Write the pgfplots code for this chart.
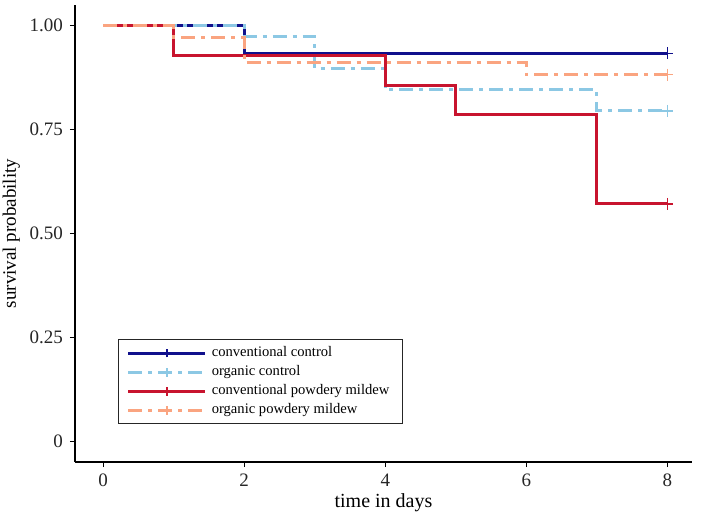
\documentclass[border=0pt]{standalone}
\usepackage{pgfplots}
\pgfplotsset{compat=1.18}
\usepackage{fontspec}
\setmainfont{Liberation Serif}
\definecolor{cnavy}{RGB}{16,16,140}
\definecolor{clblue}{RGB}{140,200,228}
\definecolor{cred}{RGB}{200,20,46}
\definecolor{corange}{RGB}{250,164,128}
\tikzset{dd/.style={dash pattern=on 7pt off 3pt on 2pt off 3pt}}
\begin{document}
\begin{tikzpicture}
\begin{axis}[
  name=ax,
  scale only axis,
  width=308.5pt, height=228.5pt,
  xmin=-0.4, xmax=8.35,
  ymin=-0.05, ymax=1.05,
  axis x line*=bottom, axis y line*=left,
  axis line style={line width=0.7pt, -},
  tick align=outside,
  major tick length=2.5pt,
  tick style={black, line width=0.7pt},
  xtick={0,2,4,6,8},
  ytick={0,0.25,0.5,0.75,1},
  yticklabels={0,0.25,0.50,0.75,1.00},
  /pgf/number format/assume math mode=true,
  ticklabel style={font=\fontsize{9.5}{11}\selectfont, text=black!85},
  xlabel={time in days},
  ylabel={survival probability},
  xlabel style={font=\fontsize{10}{12}\selectfont, inner sep=0pt, at={(axis description cs:0.5,-0.0896)}, anchor=center},
  ylabel style={font=\fontsize{9.5}{11}\selectfont, inner sep=0pt, at={(axis description cs:-0.103,0.5)}, anchor=center},
  clip=false,
  legend cell align=left,
  legend style={at={(axis description cs:0.0697,0.269)}, anchor=north west,
    draw=black!85, line width=0.6pt, font=\fontsize{7.3}{8.5}\selectfont,
    inner xsep=4pt, inner ysep=1pt, row sep=-1.8pt,
    nodes={inner sep=2.4pt}},
  legend image code/.code={
    \draw[#1] (0cm,0cm) -- (1.36cm,0cm);
    \draw[#1, solid, line width=0.7pt] (0.68cm,-2.2pt) -- (0.68cm,2.2pt);
  },
]
\addplot[const plot, cnavy, line width=1.5pt] coordinates {(0,1) (2,0.9333) (8,0.9333)};
\addlegendentry{conventional control}
\addplot[const plot, clblue, line width=1.5pt, dd] coordinates {(0,1) (2,0.9744) (3,0.8974) (4,0.8462) (7,0.7949) (8,0.7949)};
\addlegendentry{organic control}
\addplot[const plot, cred, line width=1.5pt] coordinates {(0,1) (1,0.9286) (4,0.8571) (5,0.7857) (7,0.5714) (8,0.5714)};
\addlegendentry{conventional powdery mildew}
\addplot[const plot, corange, line width=1.5pt, dd] coordinates {(0,1) (1,0.9706) (2,0.9118) (6,0.8824) (8,0.8824)};
\addlegendentry{organic powdery mildew}
\addplot[only marks, mark=+, mark size=3pt, cnavy, mark options={line width=0.8pt}, forget plot] coordinates {(8,0.9333)};
\addplot[only marks, mark=+, mark size=3pt, clblue, mark options={line width=0.8pt}, forget plot] coordinates {(8,0.7949)};
\addplot[only marks, mark=+, mark size=3pt, cred, mark options={line width=0.8pt}, forget plot] coordinates {(8,0.5714)};
\addplot[only marks, mark=+, mark size=3pt, corange, mark options={line width=0.8pt}, forget plot] coordinates {(8,0.8824)};
\end{axis}
\path ([xshift=-37.5pt,yshift=-26pt]ax.south west) rectangle ([xshift=4.5pt,yshift=2.5pt]ax.north east);
\end{tikzpicture}
\end{document}
